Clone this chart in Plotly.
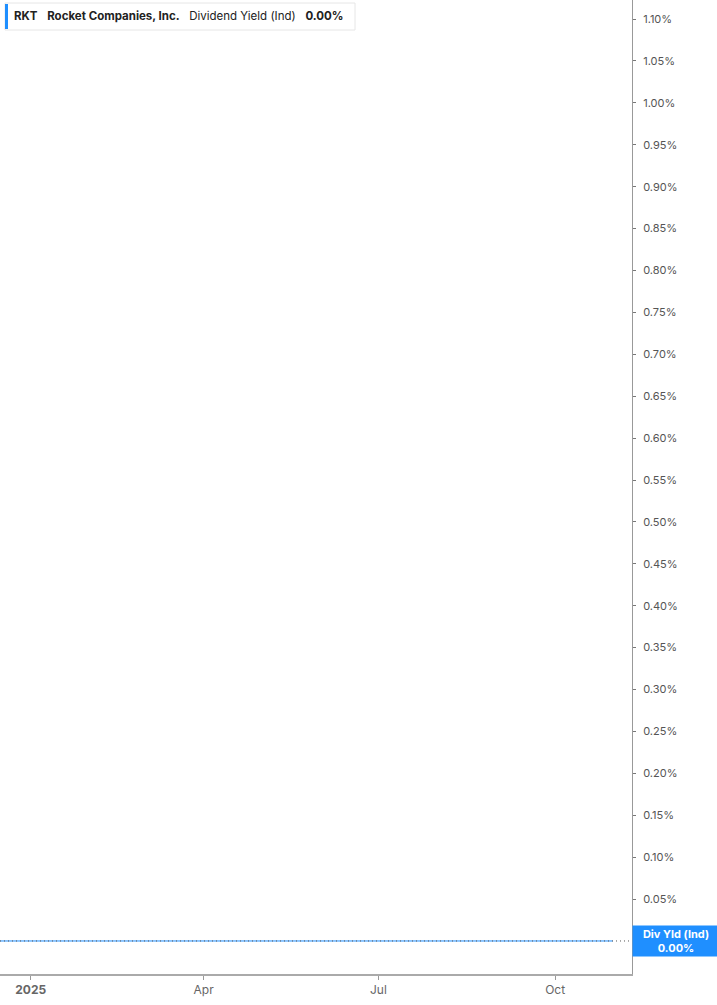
import plotly.graph_objects as go

# ---- data ----
dates = ["2024-12-16", "2025-01-01", "2025-02-01", "2025-03-01", "2025-04-01",
         "2025-05-01", "2025-06-01", "2025-07-01", "2025-08-01", "2025-09-01",
         "2025-10-01", "2025-10-31"]
div_yield = [0.0, 0.0, 0.0, 0.0, 0.0, 0.0, 0.0, 0.0, 0.0, 0.0, 0.0, 0.0]

x_tick_vals = ["2025-01-01", "2025-04-01", "2025-07-01", "2025-10-01"]
x_tick_text = ["<b>2025</b>", "Apr", "Jul", "Oct"]
y_tick_vals = [0.05, 0.10, 0.15, 0.20, 0.25, 0.30, 0.35, 0.40, 0.45, 0.50, 0.55,
               0.60, 0.65, 0.70, 0.75, 0.80, 0.85, 0.90, 0.95, 1.00, 1.05, 1.10]

ticker = "RKT"
company = "Rocket Companies, Inc."
metric = "Dividend Yield (Ind)"
last_label = "Div Yld (Ind)"

BLUE = "#1f8fff"
FONT = "Inter, Roboto, sans-serif"

fig = go.Figure()
fig.add_trace(go.Scatter(
    x=dates, y=div_yield, mode="lines",
    line=dict(color=BLUE, width=1), hoverinfo="skip", showlegend=False,
))

last = div_yield[-1]
# dotted last-value line across plot
fig.add_shape(type="line", xref="paper", x0=0, x1=1, yref="y", y0=last, y1=last,
              line=dict(color="#555555", width=1, dash="1px,3px"), layer="above")

fig.update_layout(
    width=717, height=1005,
    margin=dict(l=0, r=85, t=0, b=31),
    paper_bgcolor="white", plot_bgcolor="white",
    font=dict(family=FONT, color="#555555", size=11),
    xaxis=dict(
        range=["2024-12-16", "2025-11-10"],
        tickvals=x_tick_vals, ticktext=x_tick_text,
        showgrid=False, zeroline=False,
        showline=True, linecolor="#aaaaaa", linewidth=2,
        ticks="outside", ticklen=4, tickcolor="#999999",
        tickfont=dict(size=12, color="#666666"),
    ),
    yaxis=dict(
        side="right", range=[-0.0394, 1.1227],
        tickvals=y_tick_vals,
        ticktext=[f"{v:.2f}%" for v in y_tick_vals],
        showgrid=False, zeroline=False,
        showline=True, linecolor="#999999", linewidth=1,
        ticks="outside", ticklen=3, tickcolor="#777777",
        ticklabelstandoff=5,
        tickfont=dict(size=11, color="#555555"),
    ),
)

# last value label on right axis
fig.add_annotation(
    xref="paper", x=1.0, xanchor="left", yref="y", y=last, yanchor="middle",
    text=f"<b>{last_label}</b><br><b>{last:.2f}%</b>",
    showarrow=False, bgcolor=BLUE, font=dict(color="white", size=11, family=FONT),
    width=84, height=28, borderpad=1, align="center",
)

# header legend box
fig.add_shape(type="rect", xref="paper", yref="paper",
              x0=5/632, x1=355/632, y0=1 - 30/974, y1=1 - 3/974,
              line=dict(color="#e6e6e6", width=1), fillcolor="white", layer="above")
fig.add_shape(type="rect", xref="paper", yref="paper",
              x0=5/632, x1=8/632, y0=1 - 29/974, y1=1 - 4/974,
              line=dict(width=0), fillcolor=BLUE, layer="above")
fig.add_annotation(
    xref="paper", yref="paper", x=12/632, y=1 - 16.5/974, xanchor="left", yanchor="middle",
    text=(f"<b>{ticker}</b>&nbsp;&nbsp;&nbsp;<b>{company}</b>&nbsp;&nbsp;&nbsp;"
          f"{metric}&nbsp;&nbsp;&nbsp;<b>{last:.2f}%</b>"),
    showarrow=False, font=dict(color="#222222", size=11.5, family=FONT), align="left",
)

fig.write_html("out.html", config={"displayModeBar": False},
               post_script="document.body.style.margin='0px';")
